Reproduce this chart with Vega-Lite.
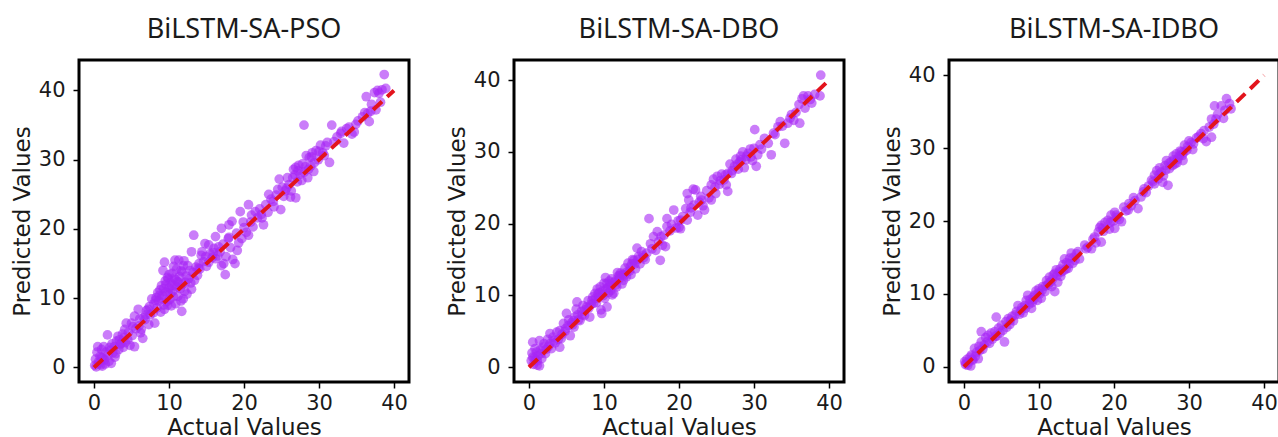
{
"$schema":"https://vega.github.io/schema/vega-lite/v6.json",
"padding":{"left":9,"top":14,"right":0,"bottom":0},
"background":"white",
"bounds":"flush",
"spacing":105,
"datasets":{
"pso":[{"actual":0.1,"predicted":0.3},{"actual":0.2,"predicted":1.2},{"actual":0.3,"predicted":0.1},{"actual":0.4,"predicted":2.2},{"actual":0.5,"predicted":3.0},{"actual":0.6,"predicted":0.8},{"actual":0.8,"predicted":1.6},{"actual":0.9,"predicted":0.4},{"actual":1.0,"predicted":2.6},{"actual":1.1,"predicted":0.2},{"actual":1.2,"predicted":1.3},{"actual":1.3,"predicted":3.0},{"actual":1.4,"predicted":1.1},{"actual":1.5,"predicted":0.5},{"actual":1.6,"predicted":2.2},{"actual":1.8,"predicted":4.7},{"actual":1.9,"predicted":1.8},{"actual":2.0,"predicted":0.9},{"actual":2.1,"predicted":2.9},{"actual":2.3,"predicted":0.6},{"actual":2.4,"predicted":3.4},{"actual":2.5,"predicted":2.1},{"actual":2.7,"predicted":3.0},{"actual":2.8,"predicted":1.5},{"actual":2.9,"predicted":2.0},{"actual":3.0,"predicted":3.8},{"actual":3.2,"predicted":4.5},{"actual":3.3,"predicted":2.6},{"actual":3.5,"predicted":3.3},{"actual":3.6,"predicted":3.5},{"actual":3.8,"predicted":4.8},{"actual":3.9,"predicted":2.9},{"actual":4.1,"predicted":5.5},{"actual":4.2,"predicted":3.6},{"actual":4.3,"predicted":6.4},{"actual":4.5,"predicted":4.0},{"actual":4.6,"predicted":5.1},{"actual":4.8,"predicted":3.2},{"actual":5.0,"predicted":6.4},{"actual":5.1,"predicted":4.6},{"actual":5.4,"predicted":3.0},{"actual":5.4,"predicted":7.4},{"actual":5.6,"predicted":5.6},{"actual":5.9,"predicted":8.4},{"actual":6.0,"predicted":6.0},{"actual":6.2,"predicted":5.0},{"actual":6.3,"predicted":5.5},{"actual":6.5,"predicted":4.2},{"actual":6.6,"predicted":7.2},{"actual":6.8,"predicted":6.9},{"actual":7.0,"predicted":8.2},{"actual":7.2,"predicted":8.4},{"actual":7.3,"predicted":6.2},{"actual":7.5,"predicted":7.6},{"actual":7.7,"predicted":9.9},{"actual":7.9,"predicted":7.9},{"actual":8.0,"predicted":9.2},{"actual":8.1,"predicted":6.4},{"actual":8.3,"predicted":10.1},{"actual":8.4,"predicted":8.6},{"actual":8.5,"predicted":10.8},{"actual":8.6,"predicted":9.6},{"actual":8.8,"predicted":11.2},{"actual":8.9,"predicted":8.0},{"actual":9.0,"predicted":11.8},{"actual":9.1,"predicted":10.4},{"actual":9.2,"predicted":14.0},{"actual":9.3,"predicted":9.0},{"actual":9.4,"predicted":15.2},{"actual":9.4,"predicted":8.4},{"actual":9.5,"predicted":12.5},{"actual":9.6,"predicted":10.9},{"actual":9.7,"predicted":9.5},{"actual":9.8,"predicted":13.0},{"actual":9.9,"predicted":12.8},{"actual":9.9,"predicted":10.8},{"actual":10.0,"predicted":11.5},{"actual":10.1,"predicted":9.8},{"actual":10.2,"predicted":12.2},{"actual":10.3,"predicted":8.9},{"actual":10.4,"predicted":13.6},{"actual":10.5,"predicted":11.0},{"actual":10.6,"predicted":10.2},{"actual":10.7,"predicted":12.9},{"actual":10.8,"predicted":15.5},{"actual":10.8,"predicted":11.8},{"actual":10.9,"predicted":9.2},{"actual":11.0,"predicted":14.2},{"actual":11.1,"predicted":12.4},{"actual":11.2,"predicted":10.3},{"actual":11.3,"predicted":15.5},{"actual":11.4,"predicted":13.1},{"actual":11.5,"predicted":11.4},{"actual":11.6,"predicted":9.6},{"actual":11.7,"predicted":13.8},{"actual":11.7,"predicted":8.1},{"actual":11.8,"predicted":12.0},{"actual":11.9,"predicted":14.7},{"actual":11.9,"predicted":9.9},{"actual":12.0,"predicted":15.4},{"actual":12.1,"predicted":11.0},{"actual":12.3,"predicted":13.2},{"actual":12.4,"predicted":10.6},{"actual":12.6,"predicted":12.8},{"actual":12.8,"predicted":14.0},{"actual":13.0,"predicted":11.3},{"actual":13.0,"predicted":16.7},{"actual":13.2,"predicted":13.7},{"actual":13.3,"predicted":19.1},{"actual":13.4,"predicted":12.6},{"actual":13.6,"predicted":14.5},{"actual":13.8,"predicted":13.3},{"actual":14.0,"predicted":15.0},{"actual":14.1,"predicted":14.2},{"actual":14.3,"predicted":16.2},{"actual":14.4,"predicted":16.7},{"actual":14.6,"predicted":15.3},{"actual":14.8,"predicted":17.9},{"actual":15.0,"predicted":14.6},{"actual":15.3,"predicted":17.7},{"actual":15.3,"predicted":15.2},{"actual":15.5,"predicted":16.4},{"actual":15.8,"predicted":15.9},{"actual":16.0,"predicted":17.2},{"actual":16.2,"predicted":18.9},{"actual":16.2,"predicted":15.7},{"actual":16.5,"predicted":16.1},{"actual":16.8,"predicted":16.7},{"actual":17.0,"predicted":20.1},{"actual":17.0,"predicted":14.7},{"actual":17.2,"predicted":17.8},{"actual":17.5,"predicted":13.4},{"actual":17.6,"predicted":16.0},{"actual":17.9,"predicted":18.6},{"actual":18.0,"predicted":20.6},{"actual":18.2,"predicted":17.3},{"actual":18.4,"predicted":21.1},{"actual":18.5,"predicted":15.6},{"actual":18.8,"predicted":15.0},{"actual":19.0,"predicted":19.4},{"actual":19.1,"predicted":16.9},{"actual":19.3,"predicted":18.0},{"actual":19.5,"predicted":22.5},{"actual":19.7,"predicted":18.6},{"actual":20.0,"predicted":20.2},{"actual":20.3,"predicted":19.5},{"actual":20.6,"predicted":23.5},{"actual":20.6,"predicted":19.1},{"actual":20.9,"predicted":21.0},{"actual":21.2,"predicted":20.3},{"actual":21.5,"predicted":22.5},{"actual":21.8,"predicted":21.6},{"actual":22.1,"predicted":22.9},{"actual":22.4,"predicted":21.6},{"actual":22.6,"predicted":20.6},{"actual":22.9,"predicted":23.5},{"actual":23.2,"predicted":22.4},{"actual":23.3,"predicted":25.0},{"actual":23.6,"predicted":24.3},{"actual":24.0,"predicted":23.2},{"actual":24.3,"predicted":24.9},{"actual":24.7,"predicted":27.2},{"actual":24.9,"predicted":22.8},{"actual":25.1,"predicted":26.0},{"actual":25.3,"predicted":24.7},{"actual":25.5,"predicted":25.5},{"actual":25.8,"predicted":27.4},{"actual":26.0,"predicted":26.4},{"actual":26.2,"predicted":24.6},{"actual":26.5,"predicted":27.4},{"actual":26.6,"predicted":28.6},{"actual":26.9,"predicted":28.9},{"actual":26.9,"predicted":24.5},{"actual":27.1,"predicted":26.8},{"actual":27.3,"predicted":29.2},{"actual":27.5,"predicted":27.9},{"actual":27.8,"predicted":29.4},{"actual":28.0,"predicted":35.0},{"actual":28.0,"predicted":28.2},{"actual":28.3,"predicted":30.6},{"actual":28.5,"predicted":27.4},{"actual":28.7,"predicted":30.3},{"actual":28.9,"predicted":29.1},{"actual":29.1,"predicted":31.0},{"actual":29.3,"predicted":28.3},{"actual":29.6,"predicted":31.3},{"actual":29.9,"predicted":30.0},{"actual":30.2,"predicted":32.1},{"actual":30.5,"predicted":31.0},{"actual":30.9,"predicted":32.0},{"actual":31.1,"predicted":32.5},{"actual":31.4,"predicted":29.6},{"actual":31.7,"predicted":35.0},{"actual":32.0,"predicted":32.6},{"actual":32.4,"predicted":33.3},{"actual":32.9,"predicted":33.8},{"actual":33.3,"predicted":32.4},{"actual":33.7,"predicted":34.5},{"actual":34.0,"predicted":34.7},{"actual":34.4,"predicted":33.7},{"actual":34.7,"predicted":34.0},{"actual":35.2,"predicted":35.6},{"actual":35.8,"predicted":36.2},{"actual":36.1,"predicted":36.8},{"actual":36.5,"predicted":36.7},{"actual":36.7,"predicted":35.5},{"actual":36.3,"predicted":39.1},{"actual":37.0,"predicted":38.0},{"actual":37.4,"predicted":39.7},{"actual":37.8,"predicted":40.0},{"actual":38.2,"predicted":38.3},{"actual":38.4,"predicted":40.1},{"actual":38.7,"predicted":42.3},{"actual":38.9,"predicted":40.3},{"actual":37.6,"predicted":37.2},{"actual":8.2,"predicted":9.7},{"actual":8.7,"predicted":10.4},{"actual":9.0,"predicted":9.9},{"actual":9.3,"predicted":11.4},{"actual":9.6,"predicted":12.0},{"actual":9.8,"predicted":9.0},{"actual":10.0,"predicted":13.4},{"actual":10.2,"predicted":10.7},{"actual":10.4,"predicted":11.9},{"actual":10.6,"predicted":14.6},{"actual":10.9,"predicted":12.7},{"actual":11.1,"predicted":11.6},{"actual":11.3,"predicted":12.3},{"actual":11.6,"predicted":14.0},{"actual":12.2,"predicted":12.3},{"actual":12.5,"predicted":14.7},{"actual":12.9,"predicted":12.2},{"actual":7.4,"predicted":8.8},{"actual":6.9,"predicted":7.6},{"actual":6.1,"predicted":7.0},{"actual":5.2,"predicted":5.9},{"actual":4.0,"predicted":4.3},{"actual":3.4,"predicted":4.0},{"actual":2.2,"predicted":2.5},{"actual":1.0,"predicted":1.4},{"actual":0.7,"predicted":0.6},{"actual":13.9,"predicted":14.3},{"actual":14.9,"predicted":16.0},{"actual":15.9,"predicted":16.6},{"actual":16.6,"predicted":17.4},{"actual":17.3,"predicted":15.0},{"actual":19.9,"predicted":21.0},{"actual":21.0,"predicted":22.0},{"actual":23.9,"predicted":24.0},{"actual":25.7,"predicted":25.9},{"actual":26.3,"predicted":25.5},{"actual":26.8,"predicted":27.8},{"actual":27.2,"predicted":28.4},{"actual":27.7,"predicted":27.0},{"actual":28.2,"predicted":29.0},{"actual":28.6,"predicted":28.6},{"actual":29.0,"predicted":30.4},{"actual":29.4,"predicted":29.6},{"actual":30.0,"predicted":31.2},{"actual":30.7,"predicted":30.6},{"actual":33.0,"predicted":34.1},{"actual":34.9,"predicted":35.1},{"actual":36.9,"predicted":37.0},{"actual":38.0,"predicted":39.6},{"actual":18.0,"predicted":18.8},{"actual":22.3,"predicted":22.1},{"actual":24.5,"predicted":25.7}],
"dbo":[{"actual":0.3,"predicted":0.9},{"actual":0.4,"predicted":2.0},{"actual":0.5,"predicted":3.5},{"actual":0.5,"predicted":1.4},{"actual":0.6,"predicted":0.4},{"actual":0.8,"predicted":2.6},{"actual":0.9,"predicted":1.1},{"actual":1.0,"predicted":2.1},{"actual":1.1,"predicted":0.3},{"actual":1.2,"predicted":1.6},{"actual":1.4,"predicted":0.2},{"actual":1.4,"predicted":3.7},{"actual":1.5,"predicted":2.4},{"actual":1.7,"predicted":1.2},{"actual":1.9,"predicted":2.8},{"actual":2.0,"predicted":3.3},{"actual":2.2,"predicted":1.9},{"actual":2.3,"predicted":2.5},{"actual":2.5,"predicted":3.9},{"actual":2.8,"predicted":4.7},{"actual":2.8,"predicted":3.3},{"actual":3.0,"predicted":2.6},{"actual":3.2,"predicted":4.2},{"actual":3.5,"predicted":3.4},{"actual":3.7,"predicted":4.9},{"actual":3.9,"predicted":3.9},{"actual":4.1,"predicted":5.1},{"actual":4.1,"predicted":2.8},{"actual":4.4,"predicted":4.6},{"actual":4.6,"predicted":6.1},{"actual":4.8,"predicted":5.0},{"actual":5.0,"predicted":7.5},{"actual":5.2,"predicted":5.8},{"actual":5.3,"predicted":6.6},{"actual":5.5,"predicted":4.4},{"actual":5.7,"predicted":6.2},{"actual":5.9,"predicted":6.5},{"actual":6.0,"predicted":5.6},{"actual":6.1,"predicted":7.0},{"actual":6.3,"predicted":8.1},{"actual":6.4,"predicted":9.1},{"actual":6.6,"predicted":6.6},{"actual":6.8,"predicted":6.5},{"actual":7.0,"predicted":7.8},{"actual":7.2,"predicted":8.6},{"actual":7.4,"predicted":7.2},{"actual":7.5,"predicted":8.0},{"actual":7.7,"predicted":8.4},{"actual":7.9,"predicted":9.3},{"actual":8.1,"predicted":7.0},{"actual":8.3,"predicted":8.8},{"actual":8.5,"predicted":9.8},{"actual":8.6,"predicted":8.9},{"actual":8.8,"predicted":10.3},{"actual":8.9,"predicted":9.6},{"actual":9.0,"predicted":9.0},{"actual":9.1,"predicted":10.9},{"actual":9.2,"predicted":10.2},{"actual":9.3,"predicted":9.8},{"actual":9.5,"predicted":11.2},{"actual":9.6,"predicted":8.0},{"actual":9.7,"predicted":7.5},{"actual":9.8,"predicted":10.6},{"actual":10.0,"predicted":11.7},{"actual":10.1,"predicted":9.6},{"actual":10.2,"predicted":12.5},{"actual":10.3,"predicted":10.9},{"actual":10.4,"predicted":8.4},{"actual":10.4,"predicted":11.7},{"actual":10.6,"predicted":10.4},{"actual":10.8,"predicted":11.4},{"actual":10.9,"predicted":10.7},{"actual":11.0,"predicted":12.3},{"actual":11.1,"predicted":10.1},{"actual":11.3,"predicted":10.3},{"actual":11.5,"predicted":12.0},{"actual":11.7,"predicted":11.2},{"actual":11.8,"predicted":13.2},{"actual":11.9,"predicted":12.7},{"actual":12.0,"predicted":12.3},{"actual":12.2,"predicted":13.1},{"actual":12.4,"predicted":11.6},{"actual":12.5,"predicted":12.9},{"actual":12.6,"predicted":12.1},{"actual":12.8,"predicted":13.8},{"actual":13.0,"predicted":12.6},{"actual":13.2,"predicted":14.5},{"actual":13.4,"predicted":13.4},{"actual":13.5,"predicted":14.0},{"actual":13.6,"predicted":12.9},{"actual":13.8,"predicted":15.0},{"actual":14.0,"predicted":14.9},{"actual":14.2,"predicted":13.7},{"actual":14.4,"predicted":16.6},{"actual":14.6,"predicted":15.4},{"actual":14.8,"predicted":14.4},{"actual":15.0,"predicted":16.1},{"actual":15.2,"predicted":15.6},{"actual":15.5,"predicted":15.0},{"actual":15.7,"predicted":15.9},{"actual":16.0,"predicted":20.7},{"actual":16.2,"predicted":17.2},{"actual":16.6,"predicted":18.2},{"actual":16.9,"predicted":16.3},{"actual":17.1,"predicted":18.9},{"actual":17.3,"predicted":17.5},{"actual":17.5,"predicted":14.9},{"actual":17.8,"predicted":17.0},{"actual":18.0,"predicted":18.4},{"actual":18.2,"predicted":16.8},{"actual":18.4,"predicted":19.6},{"actual":18.4,"predicted":20.7},{"actual":18.8,"predicted":19.0},{"actual":19.3,"predicted":21.9},{"actual":19.6,"predicted":19.4},{"actual":20.0,"predicted":19.5},{"actual":20.2,"predicted":20.5},{"actual":20.2,"predicted":19.3},{"actual":20.5,"predicted":21.0},{"actual":20.9,"predicted":22.1},{"actual":21.1,"predicted":24.2},{"actual":21.1,"predicted":20.5},{"actual":21.3,"predicted":23.3},{"actual":21.6,"predicted":22.2},{"actual":21.9,"predicted":24.8},{"actual":22.2,"predicted":24.7},{"actual":22.5,"predicted":21.2},{"actual":22.7,"predicted":23.0},{"actual":22.9,"predicted":23.8},{"actual":23.2,"predicted":22.5},{"actual":23.4,"predicted":21.9},{"actual":23.7,"predicted":24.6},{"actual":24.0,"predicted":23.6},{"actual":24.3,"predicted":25.4},{"actual":24.3,"predicted":23.3},{"actual":24.6,"predicted":26.2},{"actual":24.9,"predicted":24.2},{"actual":25.1,"predicted":26.6},{"actual":25.4,"predicted":25.5},{"actual":25.7,"predicted":26.9},{"actual":26.0,"predicted":26.1},{"actual":26.3,"predicted":25.4},{"actual":26.5,"predicted":27.0},{"actual":26.5,"predicted":24.5},{"actual":26.8,"predicted":28.3},{"actual":27.1,"predicted":27.4},{"actual":27.4,"predicted":28.0},{"actual":27.6,"predicted":29.0},{"actual":27.9,"predicted":27.6},{"actual":28.1,"predicted":28.6},{"actual":28.3,"predicted":28.9},{"actual":28.5,"predicted":30.0},{"actual":28.7,"predicted":27.8},{"actual":29.0,"predicted":29.4},{"actual":29.2,"predicted":29.8},{"actual":29.5,"predicted":30.4},{"actual":29.8,"predicted":28.8},{"actual":30.1,"predicted":33.1},{"actual":30.3,"predicted":28.0},{"actual":30.5,"predicted":29.6},{"actual":30.8,"predicted":31.0},{"actual":31.4,"predicted":31.9},{"actual":31.9,"predicted":31.2},{"actual":32.3,"predicted":29.6},{"actual":32.6,"predicted":32.6},{"actual":32.8,"predicted":32.4},{"actual":33.2,"predicted":33.5},{"actual":33.8,"predicted":33.6},{"actual":34.1,"predicted":31.2},{"actual":34.5,"predicted":34.0},{"actual":35.0,"predicted":35.2},{"actual":35.3,"predicted":34.4},{"actual":35.6,"predicted":35.5},{"actual":36.1,"predicted":34.0},{"actual":36.4,"predicted":37.4},{"actual":36.6,"predicted":37.8},{"actual":36.8,"predicted":36.1},{"actual":37.2,"predicted":37.8},{"actual":37.7,"predicted":36.8},{"actual":38.1,"predicted":38.0},{"actual":38.8,"predicted":37.8},{"actual":38.9,"predicted":40.7},{"actual":9.4,"predicted":10.4},{"actual":9.9,"predicted":10.0},{"actual":10.5,"predicted":11.1},{"actual":10.7,"predicted":12.0},{"actual":11.2,"predicted":11.8},{"actual":11.6,"predicted":11.5},{"actual":12.1,"predicted":12.8},{"actual":12.7,"predicted":12.8},{"actual":13.1,"predicted":13.3},{"actual":13.7,"predicted":14.4},{"actual":14.1,"predicted":14.4},{"actual":14.5,"predicted":15.0},{"actual":8.0,"predicted":8.3},{"actual":8.4,"predicted":9.3},{"actual":7.1,"predicted":7.3},{"actual":6.5,"predicted":7.3},{"actual":5.8,"predicted":5.9},{"actual":4.9,"predicted":5.4},{"actual":4.3,"predicted":4.0},{"actual":3.3,"predicted":3.7},{"actual":2.6,"predicted":2.9},{"actual":1.6,"predicted":1.9},{"actual":0.7,"predicted":1.3},{"actual":1.1,"predicted":0.9},{"actual":16.4,"predicted":16.5},{"actual":17.6,"predicted":18.2},{"actual":19.0,"predicted":19.9},{"actual":19.9,"predicted":20.4},{"actual":21.5,"predicted":21.6},{"actual":22.0,"predicted":22.6},{"actual":23.0,"predicted":23.3},{"actual":24.8,"predicted":25.1},{"actual":25.5,"predicted":26.0},{"actual":26.2,"predicted":26.8},{"actual":27.0,"predicted":27.0},{"actual":27.8,"predicted":28.3},{"actual":28.2,"predicted":29.4},{"actual":28.9,"predicted":28.9},{"actual":29.6,"predicted":29.3},{"actual":30.0,"predicted":30.5},{"actual":31.0,"predicted":30.4},{"actual":33.5,"predicted":34.2},{"actual":34.8,"predicted":34.7},{"actual":36.0,"predicted":36.6},{"actual":37.5,"predicted":37.3},{"actual":15.3,"predicted":15.3}],
"idbo":[{"actual":0.1,"predicted":0.7},{"actual":0.2,"predicted":0.3},{"actual":0.4,"predicted":1.0},{"actual":0.5,"predicted":0.2},{"actual":0.6,"predicted":0.6},{"actual":0.8,"predicted":1.3},{"actual":0.9,"predicted":0.1},{"actual":1.0,"predicted":1.6},{"actual":1.2,"predicted":0.9},{"actual":1.4,"predicted":2.5},{"actual":1.5,"predicted":1.4},{"actual":1.7,"predicted":2.0},{"actual":1.9,"predicted":1.1},{"actual":2.0,"predicted":2.8},{"actual":2.3,"predicted":3.4},{"actual":2.3,"predicted":4.8},{"actual":2.5,"predicted":2.4},{"actual":2.7,"predicted":3.0},{"actual":2.9,"predicted":4.0},{"actual":3.2,"predicted":4.3},{"actual":3.4,"predicted":3.2},{"actual":3.6,"predicted":4.6},{"actual":3.8,"predicted":3.8},{"actual":4.1,"predicted":4.8},{"actual":4.3,"predicted":6.8},{"actual":4.4,"predicted":4.2},{"actual":4.6,"predicted":5.3},{"actual":4.8,"predicted":4.6},{"actual":5.0,"predicted":5.7},{"actual":5.2,"predicted":5.0},{"actual":5.4,"predicted":3.4},{"actual":5.6,"predicted":6.2},{"actual":5.9,"predicted":6.6},{"actual":6.1,"predicted":5.8},{"actual":6.4,"predicted":6.9},{"actual":6.6,"predicted":6.3},{"actual":6.8,"predicted":7.1},{"actual":7.0,"predicted":7.6},{"actual":7.2,"predicted":8.4},{"actual":7.4,"predicted":7.2},{"actual":7.7,"predicted":8.1},{"actual":7.9,"predicted":7.4},{"actual":8.1,"predicted":8.4},{"actual":8.3,"predicted":9.1},{"actual":8.5,"predicted":9.8},{"actual":8.7,"predicted":8.6},{"actual":9.0,"predicted":8.0},{"actual":9.1,"predicted":8.8},{"actual":9.2,"predicted":9.5},{"actual":9.4,"predicted":9.8},{"actual":9.6,"predicted":10.4},{"actual":9.8,"predicted":9.1},{"actual":10.0,"predicted":10.7},{"actual":10.1,"predicted":10.0},{"actual":10.3,"predicted":9.4},{"actual":10.5,"predicted":11.0},{"actual":10.8,"predicted":10.3},{"actual":11.0,"predicted":11.8},{"actual":11.2,"predicted":11.2},{"actual":11.4,"predicted":12.3},{"actual":11.5,"predicted":11.6},{"actual":11.7,"predicted":11.0},{"actual":11.9,"predicted":12.6},{"actual":12.1,"predicted":12.8},{"actual":12.1,"predicted":10.3},{"actual":12.3,"predicted":13.3},{"actual":12.5,"predicted":11.6},{"actual":12.7,"predicted":13.0},{"actual":12.9,"predicted":12.4},{"actual":13.0,"predicted":13.0},{"actual":13.2,"predicted":14.0},{"actual":13.4,"predicted":14.8},{"actual":13.6,"predicted":13.4},{"actual":13.7,"predicted":14.3},{"actual":13.9,"predicted":13.5},{"actual":14.1,"predicted":14.9},{"actual":14.3,"predicted":15.6},{"actual":14.5,"predicted":14.2},{"actual":14.8,"predicted":14.6},{"actual":15.0,"predicted":15.5},{"actual":15.2,"predicted":15.8},{"actual":15.4,"predicted":14.8},{"actual":16.1,"predicted":16.7},{"actual":16.5,"predicted":16.4},{"actual":17.0,"predicted":16.2},{"actual":17.4,"predicted":17.8},{"actual":17.6,"predicted":17.0},{"actual":17.9,"predicted":18.5},{"actual":18.1,"predicted":19.1},{"actual":18.3,"predicted":19.4},{"actual":18.3,"predicted":17.1},{"actual":18.6,"predicted":18.6},{"actual":18.8,"predicted":19.8},{"actual":19.2,"predicted":20.1},{"actual":19.4,"predicted":18.9},{"actual":19.6,"predicted":20.8},{"actual":19.9,"predicted":20.0},{"actual":20.1,"predicted":21.2},{"actual":20.1,"predicted":19.0},{"actual":20.4,"predicted":20.5},{"actual":20.7,"predicted":20.2},{"actual":21.0,"predicted":19.9},{"actual":21.3,"predicted":21.9},{"actual":21.6,"predicted":21.4},{"actual":21.9,"predicted":21.5},{"actual":22.3,"predicted":22.1},{"actual":22.6,"predicted":23.2},{"actual":22.8,"predicted":22.8},{"actual":23.2,"predicted":21.7},{"actual":23.6,"predicted":23.3},{"actual":23.9,"predicted":24.0},{"actual":24.3,"predicted":23.9},{"actual":24.6,"predicted":24.8},{"actual":25.0,"predicted":25.6},{"actual":25.4,"predicted":25.1},{"actual":25.4,"predicted":26.3},{"actual":25.7,"predicted":26.9},{"actual":25.9,"predicted":25.8},{"actual":26.1,"predicted":27.3},{"actual":26.3,"predicted":26.7},{"actual":26.5,"predicted":25.3},{"actual":26.6,"predicted":26.2},{"actual":26.8,"predicted":27.6},{"actual":27.0,"predicted":28.3},{"actual":27.2,"predicted":24.9},{"actual":27.4,"predicted":27.2},{"actual":27.6,"predicted":28.1},{"actual":27.9,"predicted":28.9},{"actual":28.0,"predicted":28.4},{"actual":28.1,"predicted":27.8},{"actual":28.3,"predicted":29.2},{"actual":28.5,"predicted":28.5},{"actual":28.8,"predicted":29.6},{"actual":29.0,"predicted":29.5},{"actual":29.1,"predicted":29.0},{"actual":29.2,"predicted":28.3},{"actual":29.4,"predicted":30.4},{"actual":29.7,"predicted":29.7},{"actual":30.0,"predicted":31.0},{"actual":30.3,"predicted":30.8},{"actual":30.5,"predicted":29.8},{"actual":31.0,"predicted":31.4},{"actual":31.6,"predicted":32.0},{"actual":31.9,"predicted":31.3},{"actual":32.3,"predicted":30.9},{"actual":32.7,"predicted":32.9},{"actual":33.0,"predicted":34.0},{"actual":33.0,"predicted":31.5},{"actual":33.3,"predicted":33.3},{"actual":33.4,"predicted":35.8},{"actual":33.8,"predicted":34.6},{"actual":34.3,"predicted":35.8},{"actual":34.6,"predicted":34.1},{"actual":35.0,"predicted":36.8},{"actual":35.4,"predicted":36.1},{"actual":35.6,"predicted":35.4},{"actual":9.3,"predicted":9.2},{"actual":9.9,"predicted":10.1},{"actual":10.4,"predicted":10.5},{"actual":10.9,"predicted":11.1},{"actual":11.3,"predicted":11.5},{"actual":11.8,"predicted":12.0},{"actual":12.4,"predicted":12.5},{"actual":12.8,"predicted":13.4},{"actual":13.3,"predicted":13.2},{"actual":14.0,"predicted":14.1},{"actual":14.6,"predicted":15.0},{"actual":8.8,"predicted":9.2},{"actual":8.2,"predicted":8.0},{"actual":7.6,"predicted":7.7},{"actual":6.2,"predicted":6.4},{"actual":5.7,"predicted":5.4},{"actual":4.2,"predicted":4.2},{"actual":3.1,"predicted":3.4},{"actual":2.1,"predicted":2.2},{"actual":1.1,"predicted":1.0},{"actual":0.3,"predicted":0.5},{"actual":18.5,"predicted":19.0},{"actual":19.5,"predicted":19.8},{"actual":20.3,"predicted":20.8},{"actual":22.0,"predicted":22.4},{"actual":24.0,"predicted":24.4},{"actual":25.2,"predicted":25.4},{"actual":26.0,"predicted":26.4},{"actual":26.9,"predicted":27.0},{"actual":27.3,"predicted":27.9},{"actual":27.8,"predicted":27.6},{"actual":28.4,"predicted":28.0},{"actual":28.7,"predicted":28.9},{"actual":29.3,"predicted":29.4},{"actual":29.8,"predicted":30.2},{"actual":30.6,"predicted":30.6},{"actual":31.3,"predicted":31.6},{"actual":32.0,"predicted":32.4},{"actual":33.6,"predicted":34.0},{"actual":34.8,"predicted":35.2},{"actual":17.2,"predicted":17.5},{"actual":16.3,"predicted":16.2}],
"diag":[{"actual":0,"predicted":0},{"actual":40,"predicted":40}]
},
"hconcat":[
{"width":330,"height":322,"title":"BiLSTM-SA-PSO","layer":[
{"data":{"name":"pso"},"mark":{"type":"circle","size":95,"color":"#a626f5","opacity":0.6},"encoding":{"x":{"field":"actual","type":"quantitative","scale":{"domain":[-2,42],"nice":false,"zero":false},"axis":{"title":"Actual Values","values":[0,10,20,30,40],"domain":false,"grid":false,"labelPadding":4,"titlePadding":3}},"y":{"field":"predicted","type":"quantitative","scale":{"domain":[-2.1,44.4],"nice":false,"zero":false},"axis":{"title":"Predicted Values","values":[0,10,20,30,40],"domain":false,"grid":false,"labelPadding":8,"titlePadding":4}}}},
{"data":{"name":"diag"},"mark":{"type":"line","color":"#e3141c","strokeWidth":4,"strokeDash":[12,7]},"encoding":{"x":{"field":"actual","type":"quantitative"},"y":{"field":"predicted","type":"quantitative"}}}
]},
{"width":330,"height":322,"title":"BiLSTM-SA-DBO","layer":[
{"data":{"name":"dbo"},"mark":{"type":"circle","size":95,"color":"#a626f5","opacity":0.6},"encoding":{"x":{"field":"actual","type":"quantitative","scale":{"domain":[-2,42],"nice":false,"zero":false},"axis":{"title":"Actual Values","values":[0,10,20,30,40],"domain":false,"grid":false,"labelPadding":4,"titlePadding":3}},"y":{"field":"predicted","type":"quantitative","scale":{"domain":[-2.05,42.8],"nice":false,"zero":false},"axis":{"title":"Predicted Values","values":[0,10,20,30,40],"domain":false,"grid":false,"labelPadding":8,"titlePadding":4}}}},
{"data":{"name":"diag"},"mark":{"type":"line","color":"#e3141c","strokeWidth":4,"strokeDash":[12,7]},"encoding":{"x":{"field":"actual","type":"quantitative"},"y":{"field":"predicted","type":"quantitative"}}}
]},
{"width":330,"height":322,"title":"BiLSTM-SA-IDBO","layer":[
{"data":{"name":"idbo"},"mark":{"type":"circle","size":95,"color":"#a626f5","opacity":0.6},"encoding":{"x":{"field":"actual","type":"quantitative","scale":{"domain":[-2,42],"nice":false,"zero":false},"axis":{"title":"Actual Values","values":[0,10,20,30,40],"domain":false,"grid":false,"labelPadding":4,"titlePadding":3}},"y":{"field":"predicted","type":"quantitative","scale":{"domain":[-2.1,42.1],"nice":false,"zero":false},"axis":{"title":"Predicted Values","values":[0,10,20,30,40],"domain":false,"grid":false,"labelPadding":8,"titlePadding":4}}}},
{"data":{"name":"diag"},"mark":{"type":"line","color":"#e3141c","strokeWidth":4,"strokeDash":[12,7]},"encoding":{"x":{"field":"actual","type":"quantitative"},"y":{"field":"predicted","type":"quantitative"}}}
]}
],
"config":{
"view":{"stroke":"black","strokeWidth":3},
"axis":{"tickColor":"black","tickWidth":1.5,"tickSize":6,"labelFont":"DejaVu Sans","labelFontSize":21,"labelColor":"#1a1a1a","labelFlush":false,"labelOverlap":false,"titleFont":"DejaVu Sans","titleFontSize":23,"titleFontWeight":"normal","titleColor":"#1a1a1a"},
"title":{"font":"Noto Sans","fontSize":27,"fontWeight":"normal","color":"#1a1a1a","anchor":"middle","frame":"group","baseline":"alphabetic","offset":16}
}
}
